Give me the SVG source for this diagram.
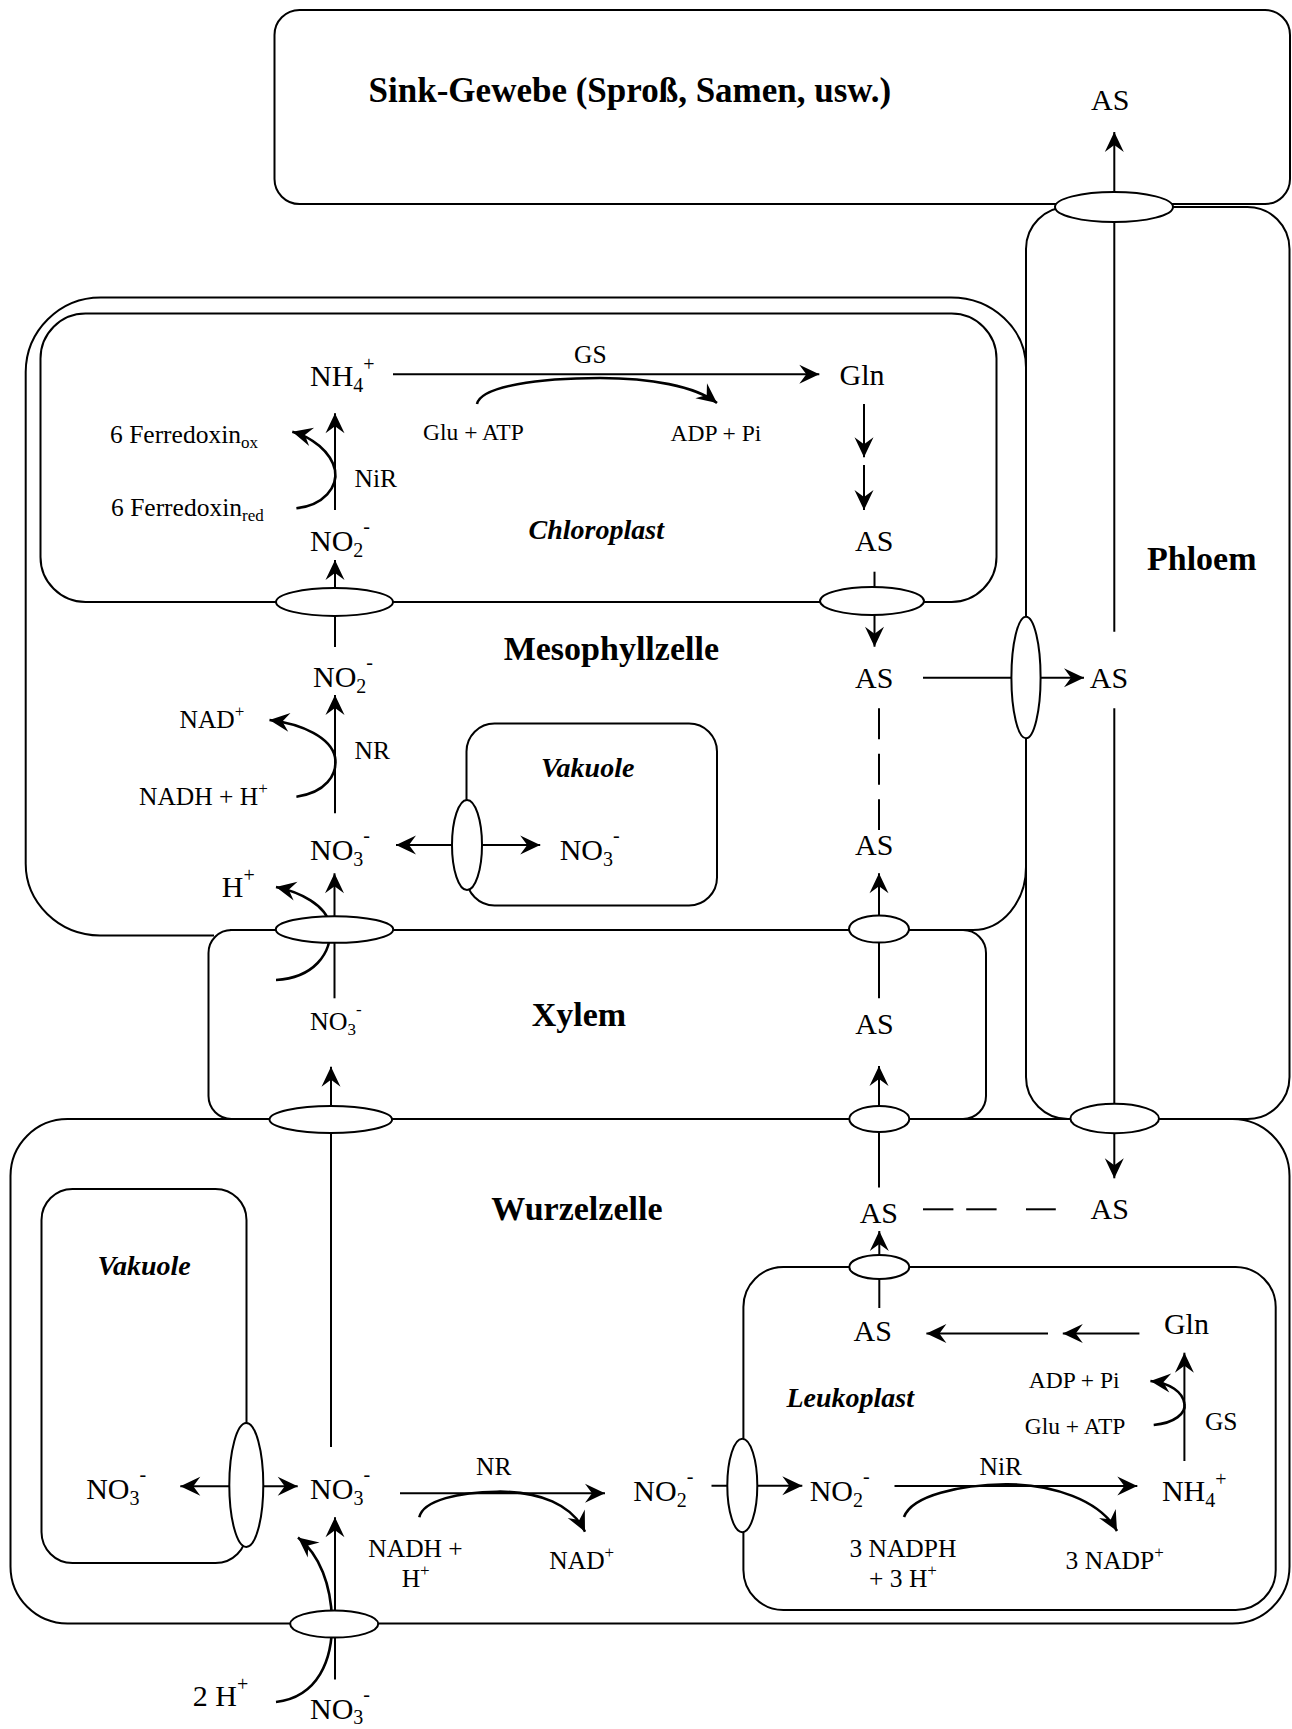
<svg xmlns="http://www.w3.org/2000/svg" width="1292" height="1729" viewBox="0 0 1292 1729">
<defs>
<style>
.bx{fill:none;stroke:#000;stroke-width:2}
.el{fill:#fff;stroke:#000;stroke-width:2}
.ln{fill:none;stroke:#000;stroke-width:2}
.cv{fill:none;stroke:#000;stroke-width:2.6}
.ar{marker-end:url(#ah)}
.dash{stroke-dasharray:31 14.5}
text{font-family:"Liberation Serif","Times New Roman",serif;fill:#000}
.m{font-size:30px}
.s{font-size:25.5px}
.xs{font-size:23.5px}
.t{font-size:34px;font-weight:bold}
.i{font-size:28px;font-weight:bold;font-style:italic}
.sb{font-size:20px}
.sp{font-size:20px}
.ss{font-size:17px}
</style>
<marker id="ah" markerUnits="userSpaceOnUse" markerWidth="24" markerHeight="22" viewBox="-22 -11 24 22" refX="0" refY="0" orient="auto-start-reverse">
<path d="M0,0 L-20,-9.5 L-13,0 L-20,9.5 Z" fill="#000"/>
</marker>
</defs>

<!-- compartments -->
<g id="sink"><rect class="bx" x="274.5" y="10" width="1015.5" height="194" rx="25"/></g>
<g id="phloem"><rect class="bx" x="1026" y="207" width="263.5" height="912" rx="42"/></g>
<g id="mesophyll"><path class="bx" d="M214,935.5 H100 A75,72 0 0 1 25.7,863 V372 A75,75 0 0 1 100.7,297.5 H951 A75,70 0 0 1 1026,367.5 V867 A53,63 0 0 1 973,930 H230"/></g>
<g id="chloroplast"><rect class="bx" x="40.5" y="313.5" width="956" height="288.5" rx="45"/></g>
<g id="vakuole-meso"><rect class="bx" x="466.5" y="723.5" width="250.5" height="182" rx="28"/></g>
<g id="xylem"><rect class="bx" x="208.5" y="930" width="777.5" height="189" rx="23"/></g>
<g id="wurzelzelle"><rect class="bx" x="10.5" y="1119" width="1279" height="504.5" rx="57"/></g>
<g id="vakuole-root"><rect class="bx" x="41.5" y="1189" width="205" height="374" rx="31"/></g>
<g id="leukoplast"><rect class="bx" x="743.4" y="1267" width="532.3" height="343" rx="40"/></g>

<!-- connectors -->
<g id="connectors">
<line class="ln ar" x1="1114.3" y1="631.7" x2="1114.3" y2="132"/>
<line class="ln" x1="1114.3" y1="1104" x2="1114.3" y2="708.3"/>
<line class="ln ar" x1="1114.3" y1="1133" x2="1114.3" y2="1178.3"/>
<line class="ln ar" x1="393" y1="374.3" x2="819.3" y2="374.3"/>
<path class="cv ar" d="M477,404 C481,386 540,378 600,378 C650,378 695,386 717,403"/>
<line class="ln ar" x1="864" y1="404" x2="864" y2="457.3"/>
<line class="ln ar" x1="864" y1="465" x2="864" y2="510"/>
<line class="ln ar" x1="874.5" y1="571.7" x2="874.5" y2="646.7"/>
<line class="ln ar" x1="923" y1="677.7" x2="1084" y2="677.7"/>
<line class="ln dash" x1="879" y1="708.3" x2="879" y2="830"/>
<line class="ln ar" x1="879" y1="998.3" x2="879" y2="873.3"/>
<line class="ln ar" x1="879" y1="1187.4" x2="879" y2="1066"/>
<line class="ln ar" x1="879.3" y1="1308" x2="879.3" y2="1231"/>
<line class="ln" x1="923" y1="1209.3" x2="953.4" y2="1209.3"/>
<line class="ln" x1="966.2" y1="1209.3" x2="996.6" y2="1209.3"/>
<line class="ln" x1="1026" y1="1209.3" x2="1055.8" y2="1209.3"/>
<line class="ln ar" x1="1139.4" y1="1333.5" x2="1062.8" y2="1333.5"/>
<line class="ln ar" x1="1048" y1="1333.5" x2="926.4" y2="1333.5"/>
<line class="ln ar" x1="1184.4" y1="1461" x2="1184.4" y2="1352.7"/>
<path class="cv ar" d="M1153.7,1425 C1175,1423 1186,1413 1184.5,1404 C1183,1392 1170,1383 1150.4,1381"/>
<line class="ln ar" x1="894.5" y1="1486" x2="1137.3" y2="1486"/>
<path class="cv ar" d="M904,1517 C912,1495 960,1485 1006,1484.3 C1052,1484 1100,1500 1117,1531"/>
<line class="ln ar" x1="711.5" y1="1485.7" x2="802.3" y2="1485.7"/>
<line class="ln ar" x1="400" y1="1493.3" x2="605" y2="1493.3"/>
<path class="cv ar" d="M419.3,1517.3 C423,1500 460,1492 497,1491.7 C540,1491 572,1505 585,1531.7"/>
<line class="ln ar" x1="180.3" y1="1486.3" x2="297.7" y2="1486.3" marker-start="url(#ah)"/>
<line class="ln ar" x1="331" y1="1447" x2="331" y2="1066.7"/>
<line class="ln ar" x1="335" y1="1679.6" x2="335" y2="1517.2"/>
<path class="cv ar" d="M276,1702 C318,1697 333,1660 332,1620 C331,1585 320,1555 298,1537.5"/>
<line class="ln ar" x1="334.5" y1="998.3" x2="334.5" y2="873.3"/>
<path class="cv ar" d="M276,980 C312,978 333,955 330,925 C326,905 300,892 276,887"/>
<line class="ln ar" x1="396" y1="845" x2="540.2" y2="845" marker-start="url(#ah)"/>
<line class="ln ar" x1="335" y1="813.3" x2="335" y2="695"/>
<path class="cv ar" d="M296.4,796.7 C325,793 338,775 335,757 C331,738 303,724 269.5,720"/>
<line class="ln ar" x1="335" y1="647" x2="335" y2="560"/>
<line class="ln ar" x1="335" y1="510" x2="335" y2="413.3"/>
<path class="cv ar" d="M296.4,508.3 C324,505 338,487 335,470 C331,452 312,437 292.3,431.7"/>
</g>

<!-- transporters -->
<g id="transporters">
<ellipse class="el" cx="1114" cy="207" rx="59" ry="15"/>
<ellipse class="el" cx="334.5" cy="602" rx="58.5" ry="14"/>
<ellipse class="el" cx="872" cy="601" rx="52" ry="14"/>
<ellipse class="el" cx="1026" cy="677.5" rx="14.6" ry="60.8"/>
<ellipse class="el" cx="467" cy="845" rx="15" ry="45"/>
<ellipse class="el" cx="334.5" cy="929.5" rx="58.7" ry="13.3"/>
<ellipse class="el" cx="879" cy="929" rx="30" ry="13.5"/>
<ellipse class="el" cx="330.8" cy="1119.5" rx="61.3" ry="13.5"/>
<ellipse class="el" cx="879.3" cy="1119" rx="30" ry="13"/>
<ellipse class="el" cx="1114.7" cy="1118.5" rx="44.3" ry="14.7"/>
<ellipse class="el" cx="879.3" cy="1267" rx="30" ry="12"/>
<ellipse class="el" cx="742.3" cy="1485.5" rx="15" ry="46.7"/>
<ellipse class="el" cx="246.3" cy="1485" rx="17" ry="62"/>
<ellipse class="el" cx="334.2" cy="1624" rx="44" ry="13.6"/>
</g>

<!-- labels -->
<g id="labels">
<text x="368.6" y="101.7" style="font-size:35px;font-weight:bold">Sink-Gewebe (Sproß, Samen, usw.)</text>
<text class="m" x="1091" y="110">AS</text>
<text class="t" x="1147" y="570">Phloem</text>
<text class="m" x="310" y="386">NH<tspan class="sb" dy="6">4</tspan><tspan class="sp" dy="-21">+</tspan></text>
<text class="s" x="574" y="363">GS</text>
<text class="m" x="839.6" y="385">Gln</text>
<text class="xs" x="423" y="440">Glu + ATP</text>
<text class="xs" x="670.6" y="441">ADP + Pi</text>
<text class="s" x="110" y="442.7">6 Ferredoxin<tspan class="ss" dy="5">ox</tspan></text>
<text class="s" x="111" y="516">6 Ferredoxin<tspan class="ss" dy="5">red</tspan></text>
<text class="s" x="354.5" y="486.7">NiR</text>
<text class="m" x="310" y="551">NO<tspan class="sb" dy="6">2</tspan><tspan class="sp" dy="-24">-</tspan></text>
<text class="i" x="528.6" y="539">Chloroplast</text>
<text class="m" x="855" y="550.7">AS</text>
<text class="t" x="503.7" y="660">Mesophyllzelle</text>
<text class="m" x="313" y="686.7">NO<tspan class="sb" dy="6">2</tspan><tspan class="sp" dy="-24">-</tspan></text>
<text class="s" x="179.5" y="728.3">NAD<tspan class="ss" dy="-11">+</tspan></text>
<text class="s" x="354.5" y="759.3">NR</text>
<text class="s" x="139" y="805">NADH + H<tspan class="ss" dy="-11">+</tspan></text>
<text class="m" x="310" y="860">NO<tspan class="sb" dy="6">3</tspan><tspan class="sp" dy="-24">-</tspan></text>
<text class="m" x="559.7" y="860">NO<tspan class="sb" dy="6">3</tspan><tspan class="sp" dy="-24">-</tspan></text>
<text class="i" x="541" y="777.3">Vakuole</text>
<text class="m" x="221.8" y="896.7">H<tspan class="sp" dy="-15">+</tspan></text>
<text class="m" x="855" y="688.3">AS</text>
<text class="m" x="1089.8" y="688.3">AS</text>
<text class="m" x="855" y="855">AS</text>
<text style="font-size:26px" x="310" y="1030">NO<tspan class="ss" dy="5">3</tspan><tspan class="ss" dy="-20">-</tspan></text>
<text class="t" x="531.7" y="1025.7">Xylem</text>
<text class="m" x="855.3" y="1034">AS</text>
<text class="t" x="491.3" y="1220.3">Wurzelzelle</text>
<text class="m" x="859.7" y="1223.3">AS</text>
<text class="m" x="1090.6" y="1219.3">AS</text>
<text class="i" x="97.4" y="1274.5">Vakuole</text>
<text class="m" x="853.5" y="1340.7">AS</text>
<text class="m" x="1163.9" y="1334">Gln</text>
<text class="xs" x="1028.8" y="1388">ADP + Pi</text>
<text class="xs" x="1024.7" y="1433.7">Glu + ATP</text>
<text class="s" x="1204.9" y="1429.7">GS</text>
<text class="i" x="786.4" y="1406.9">Leukoplast</text>
<text class="m" x="86.2" y="1499.1">NO<tspan class="sb" dy="6">3</tspan><tspan class="sp" dy="-24">-</tspan></text>
<text class="m" x="310.1" y="1499">NO<tspan class="sb" dy="6">3</tspan><tspan class="sp" dy="-24">-</tspan></text>
<text class="s" x="476" y="1475">NR</text>
<text class="m" x="633.3" y="1500.7">NO<tspan class="sb" dy="6">2</tspan><tspan class="sp" dy="-24">-</tspan></text>
<text class="m" x="809.7" y="1501">NO<tspan class="sb" dy="6">2</tspan><tspan class="sp" dy="-24">-</tspan></text>
<text class="s" x="979.6" y="1475">NiR</text>
<text class="m" x="1161.9" y="1501">NH<tspan class="sb" dy="6">4</tspan><tspan class="sp" dy="-21">+</tspan></text>
<text class="s" x="368.3" y="1556.7">NADH +</text>
<text class="s" x="401.7" y="1586.7">H<tspan class="ss" dy="-11">+</tspan></text>
<text class="s" x="549.3" y="1569.3">NAD<tspan class="ss" dy="-11">+</tspan></text>
<text class="s" x="849.4" y="1557.3">3 NADPH</text>
<text class="s" x="869" y="1587.4">+ 3 H<tspan class="ss" dy="-11">+</tspan></text>
<text class="s" x="1065.6" y="1569.3">3 NADP<tspan class="ss" dy="-11">+</tspan></text>
<text class="m" x="192.8" y="1705.7">2 H<tspan class="sp" dy="-15">+</tspan></text>
<text class="m" x="310" y="1719">NO<tspan class="sb" dy="5">3</tspan><tspan class="sp" dy="-23">-</tspan></text>
</g>
</svg>
